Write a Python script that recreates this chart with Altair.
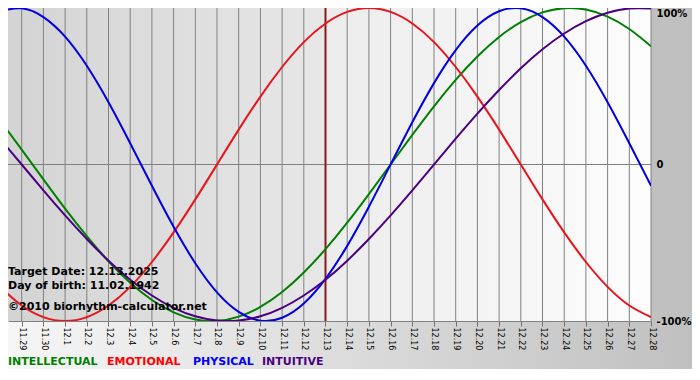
import json
import altair as alt
import pandas as pd

# ---------------- data ----------------
day_labels = ["11.28", "11.29", "11.30", "12.1", "12.2", "12.3", "12.4", "12.5",
              "12.6", "12.7", "12.8", "12.9", "12.10", "12.11", "12.12", "12.13",
              "12.14", "12.15", "12.16", "12.17", "12.18", "12.19", "12.20",
              "12.21", "12.22", "12.23", "12.24", "12.25", "12.26", "12.27", "12.28"]

intellectual = [0.282, 0.095, -0.095, -0.282, -0.458, -0.618, -0.756, -0.866, -0.945, -0.990,
                -0.999, -0.972, -0.910, -0.815, -0.690, -0.541, -0.372, -0.189, 0.000, 0.189,
                0.372, 0.541, 0.690, 0.815, 0.910, 0.972, 0.999, 0.990, 0.945, 0.866, 0.756]
emotional = [-0.782, -0.901, -0.975, -1.000, -0.975, -0.901, -0.782, -0.623, -0.434, -0.223,
             0.000, 0.223, 0.434, 0.623, 0.782, 0.901, 0.975, 1.000, 0.975, 0.901,
             0.782, 0.623, 0.434, 0.223, 0.000, -0.223, -0.434, -0.623, -0.782, -0.901, -0.975]
physical = [0.979, 0.998, 0.942, 0.817, 0.631, 0.398, 0.136, -0.136, -0.398, -0.631,
            -0.817, -0.942, -0.998, -0.979, -0.888, -0.731, -0.520, -0.270, 0.000, 0.270,
            0.520, 0.731, 0.888, 0.979, 0.998, 0.942, 0.817, 0.631, 0.398, 0.136, -0.136]
intuitive = [0.165, 0.000, -0.165, -0.325, -0.476, -0.615, -0.737, -0.837, -0.916, -0.970,
             -0.997, -0.997, -0.970, -0.916, -0.837, -0.737, -0.615, -0.476, -0.325, -0.165,
             0.000, 0.165, 0.325, 0.476, 0.615, 0.737, 0.837, 0.916, 0.970, 0.997, 0.997]

series_names = ["INTELLECTUAL", "EMOTIONAL", "PHYSICAL", "INTUITIVE"]
series_values = [intellectual, emotional, physical, intuitive]
series_colors = ["#008000", "#e8141c", "#0000e0", "#4b0082"]
legend_colors = ["#008000", "#ff0000", "#0000ff", "#4b0082"]

target_index = 15
y_tick_values = [-1, 0, 1]
y_tick_labels = ["-100%", "0", "100%"]

info_lines = ["Target Date: 12.13.2025", "Day of birth: 11.02.1942",
              "\u00a92010 biorhythm-calculator.net"]

# ---------------- tables ----------------
rows = []
for name, vals in zip(series_names, series_values):
    for i, v in enumerate(vals):
        rows.append({"day": i, "value": v, "series": name})
df = pd.DataFrame(rows)

last = len(day_labels) - 1
bg_df = pd.DataFrame({"start": [0, target_index], "end": [target_index, last],
                      "lo": [-1, -1], "hi": [1, 1], "part": ["past", "future"]})
grid_df = pd.DataFrame({"day": list(range(1, len(day_labels)))})
hgrid_df = pd.DataFrame({"v": [0]})
target_df = pd.DataFrame({"day": [target_index]})

# ---------------- layout ----------------
W, H = 643, 313
PAD_R, PAD_B = 41, 48
x_start = 0.3687  # page margin crops the first part of the first day

x_scale = alt.Scale(domain=[x_start, last], nice=False, zero=False)
y_scale = alt.Scale(domain=[-1, 1], nice=False)

x_axis = alt.Axis(
    values=list(range(1, len(day_labels))),
    labelExpr=json.dumps(day_labels) + "[datum.value]",
    labelAngle=90, labelFont="DejaVu Sans", labelFontSize=8, labelColor="#000000",
    labelPadding=1, labelFlush=False, labelOverlap=False,
    tickSize=5, tickColor="#707070", domainColor="#808080", grid=False,
    title=None, zindex=1,
)
y_axis = alt.Axis(
    orient="right", values=y_tick_values,
    labelExpr=json.dumps(y_tick_labels) + "[indexof(" + json.dumps(y_tick_values) + ", datum.value)]",
    labelFont="DejaVu Sans", labelFontWeight="bold", labelFontSize=10,
    labelColor="#000000", labelPadding=5, ticks=False, domain=False, grid=False,
    labelFlush=False,
    labelBaseline={"condition": {"test": "datum.value == 1", "value": "top"}, "value": "middle"},
    title=None, zindex=1,
)


def X(field):
    return alt.X(field, type="quantitative", scale=x_scale, axis=x_axis)


def Y(field):
    return alt.Y(field, type="quantitative", scale=y_scale, axis=y_axis)


def hgrad(c0, c1):
    return alt.LinearGradient(gradient="linear",
                              stops=[alt.GradientStop(offset=0, color=c0),
                                     alt.GradientStop(offset=1, color=c1)],
                              x1=0, x2=1, y1=0, y2=0)


layers = []

# bottom band behind axis labels
layers.append(
    alt.Chart(alt.Data(values=[{"a": 1}])).mark_rect(color=hgrad("#f6f6f6", "#c0c0c0")).encode(
        x=alt.value(0), x2=alt.value(W + PAD_R), y=alt.value(H), y2=alt.value(H + PAD_B)
    )
)

# plot background gradients
layers.append(
    alt.Chart(bg_df[bg_df.part == "past"]).mark_rect(color=hgrad("#d3d3d3", "#e7e7e7"), clip=True).encode(
        x=X("start"), x2="end", y=Y("lo"), y2="hi"
    )
)
layers.append(
    alt.Chart(bg_df[bg_df.part == "future"]).mark_rect(color=hgrad("#ececec", "#fdfdfd"), clip=True).encode(
        x=X("start"), x2="end", y=Y("lo"), y2="hi"
    )
)

# grid
layers.append(
    alt.Chart(grid_df).mark_rule(color="#808080", strokeWidth=1).encode(x=X("day"))
)
layers.append(
    alt.Chart(hgrid_df).mark_rule(color="#808080", strokeWidth=1).encode(y=Y("v"))
)

# target date marker
layers.append(
    alt.Chart(target_df).mark_rule(color="#8b1a1a", strokeWidth=2).encode(x=X("day"))
)

# biorhythm curves
layers.append(
    alt.Chart(df).mark_line(interpolate="natural", strokeWidth=2, clip=True).encode(
        x=X("day"), y=Y("value"),
        color=alt.Color("series:N", scale=alt.Scale(domain=series_names, range=series_colors), legend=None),
    )
)

# info texts
info_y = [264, 278, 299]
for txt, yy in zip(info_lines, info_y):
    layers.append(
        alt.Chart(alt.Data(values=[{"t": txt}])).mark_text(
            align="left", baseline="middle", font="DejaVu Sans", fontWeight="bold",
            fontSize=11, color="#000000"
        ).encode(x=alt.value(0), y=alt.value(yy), text="t:N")
    )

# legend texts
legend_x = [0, 99, 185, 254]
for name, col, xx in zip(series_names, legend_colors, legend_x):
    layers.append(
        alt.Chart(alt.Data(values=[{"t": name}])).mark_text(
            align="left", baseline="middle", font="DejaVu Sans", fontWeight="bold",
            fontSize=11, color=col
        ).encode(x=alt.value(xx), y=alt.value(354), text="t:N")
    )

chart = alt.layer(*layers).properties(
    width=W, height=H,
    autosize=alt.AutoSizeParams(type="none"),
    padding={"left": 0, "top": 0, "right": PAD_R, "bottom": PAD_B},
    background="#c0c0c0",
).configure_view(stroke=None)

chart.save("out.html", embed_options={"renderer": "svg", "actions": False})
